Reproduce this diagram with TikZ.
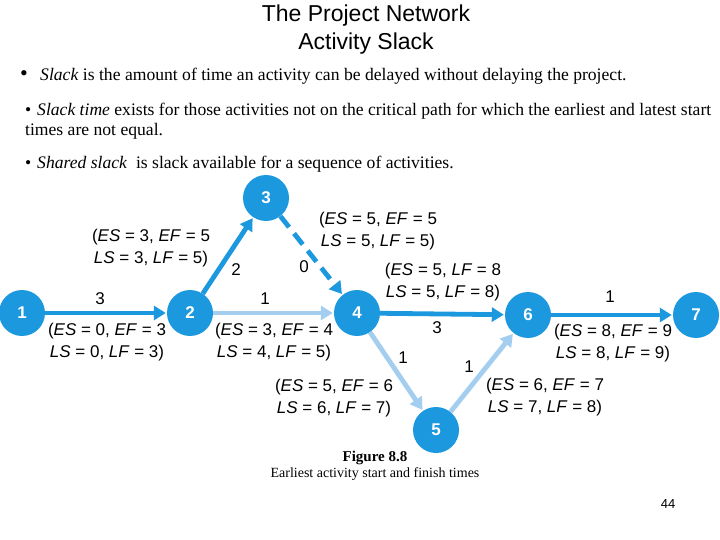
\documentclass[tikz,border=0pt]{standalone}
\usepackage{fontspec}
\setmainfont{Liberation Serif}
\setsansfont{Liberation Sans}
\usepackage{tikz}
\usetikzlibrary{arrows.meta, positioning}

\definecolor{critblue}{RGB}{28,152,222}
\definecolor{slackblue}{RGB}{164,206,240}

\begin{document}
\begin{tikzpicture}[
        x=1pt, y=-1pt,
        event/.style={circle, fill=critblue, minimum size=46pt, inner sep=0pt, text=white, font=\sffamily\bfseries\fontsize{17}{17}\selectfont},
        crit/.style={critblue, line width=4.8pt, -{Triangle[length=12pt, width=14pt]}, shorten >=1pt},
        slackarrow/.style={slackblue, line width=4.8pt, -{Triangle[length=12pt, width=14pt]}, shorten >=1pt},
        lbl/.style={align=center, inner sep=0pt, font=\sffamily\fontsize{17}{21.5}\selectfont},
        num/.style={inner sep=0pt, font=\sffamily\fontsize{17}{17}\selectfont},
        bullet/.style={anchor=west, inner sep=0pt, font=\fontsize{17.6}{20}\selectfont}
    ]
        \useasboundingbox[fill=white] (0,0) rectangle (720,540);

        % title
        \node[font=\sffamily\fontsize{23}{28}\selectfont, align=center] (title) at (366,30) {The Project Network\\Activity Slack};

        % bullets
        \node[bullet] (b1) at (20,76) {\makebox[20pt][l]{\fontsize{22}{20}\selectfont\textbullet}\textit{Slack} is the amount of time an activity can be delayed without delaying the project.};
        \node[bullet] (b2) at (25,111) {\makebox[12pt][l]{\textbullet}\textit{Slack time} exists for those activities not on the critical path for which the earliest and latest start};
        \node[bullet] (b2b) at (25,131) {times are not equal.};
        \node[bullet] (b3) at (25,164) {\makebox[12pt][l]{\textbullet}\textit{Shared slack}\ \ is slack available for a sequence of activities.};

        % events
        \node[event] (n1) at (22,313) {1};
        \node[event] (n2) at (190,313) {2};
        \node[event] (n3) at (266,198) {3};
        \node[event] (n4) at (357,313) {4};
        \node[event] (n5) at (436,430) {5};
        \node[event] (n6) at (528,315) {6};
        \node[event] (n7) at (696,315) {7};

        % activities
        \draw[slackarrow] (n2) -- (n4);
        \draw[slackarrow] (n4) -- (n5);
        \draw[slackarrow] (n5) -- (n6);
        \draw[crit] (n1) -- (n2);
        \draw[crit] (n2) -- (n3);
        \draw[crit, dash pattern=on 14pt off 8pt] (n3) -- (n4);
        \draw[crit] (n4) -- (n6);
        \draw[crit] (n6) -- (n7);

        % durations
        \node[num] (d12) at (100,299) {3};
        \node[num] (d23) at (236,270) {2};
        \node[num] (d34) at (304,267) {0};
        \node[num] (d24) at (265,299) {1};
        \node[num] (d46) at (437,328) {3};
        \node[num] (d67) at (610,297) {1};
        \node[num] (d45) at (403,358) {1};
        \node[num] (d56) at (469,367) {1};

        % times
        \node[lbl] (t12) at (107,342) {(\textit{ES} = 0, \textit{EF} = 3\\\textit{LS} = 0, \textit{LF} = 3)};
        \node[lbl] (t23) at (151,248) {(\textit{ES} = 3, \textit{EF} = 5\\\textit{LS} = 3, \textit{LF} = 5)};
        \node[lbl] (t34) at (378,231) {(\textit{ES} = 5, \textit{EF} = 5\\\textit{LS} = 5, \textit{LF} = 5)};
        \node[lbl] (t24) at (274,342) {(\textit{ES} = 3, \textit{EF} = 4\\\textit{LS} = 4, \textit{LF} = 5)};
        \node[lbl] (t46) at (443,282) {(\textit{ES} = 5, \textit{LF} = 8\\\textit{LS} = 5, \textit{LF} = 8)};
        \node[lbl] (t67) at (613,343) {(\textit{ES} = 8, \textit{EF} = 9\\\textit{LS} = 8, \textit{LF} = 9)};
        \node[lbl] (t45) at (334,398) {(\textit{ES} = 5, \textit{EF} = 6\\\textit{LS} = 6, \textit{LF} = 7)};
        \node[lbl] (t56) at (545,397) {(\textit{ES} = 6, \textit{EF} = 7\\\textit{LS} = 7, \textit{LF} = 8)};

        % caption
        \node[font=\fontsize{14}{15.5}\selectfont, align=center] (cap) at (375,466) {{\fontsize{15}{15.5}\selectfont\textbf{Figure 8.8}}\\Earliest activity start and finish times};
        \node[font=\sffamily\fontsize{13}{13}\selectfont] (page) at (668,504) {44};
\end{tikzpicture}
\end{document}
